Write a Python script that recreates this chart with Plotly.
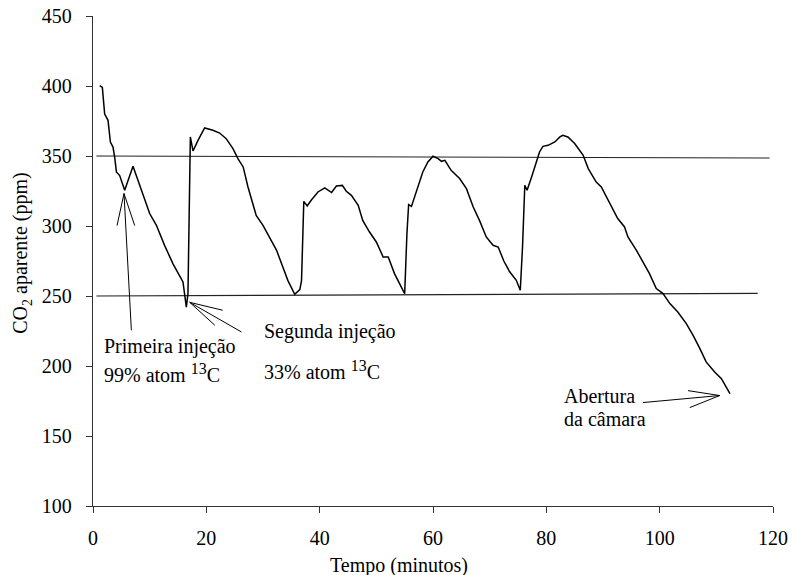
import plotly.graph_objects as go

# ---- data ----
tempo = [1.18, 1.65, 2.06, 2.65, 3.07, 3.53, 3.83, 4.13, 4.71, 5.59, 7.06, 7.94, 8.82, 10.0,
         11.19, 12.65, 14.12, 15.3, 15.88, 16.47, 16.76, 17.18, 17.65, 18.53, 19.7, 21.17,
         22.35, 23.5, 24.7, 25.6, 26.5, 27.35, 28.8, 30.0, 31.3, 32.4, 33.5, 34.4, 35.6,
         36.5, 36.8, 37.2, 37.8, 38.5, 39.7, 40.9, 42.1, 42.95, 44.0, 44.7, 45.6, 46.8,
         47.6, 48.8, 50.0, 51.2, 52.1, 53.2, 54.1, 55.0, 55.4, 55.7, 56.2, 57.1, 58.2,
         59.1, 60.0, 60.9, 61.5, 62.1, 63.2, 64.7, 65.9, 67.1, 68.2, 69.4, 70.6, 71.5,
         72.5, 73.5, 74.7, 75.4, 75.8, 76.2, 76.6, 77.4, 78.2, 78.8, 79.4, 80.3, 81.5,
         82.4, 82.9, 83.8, 85.0, 86.5, 87.4, 88.8, 89.7, 91.2, 92.6, 93.8, 94.4, 95.9,
         97.1, 98.2, 99.4, 100.6, 101.8, 103.2, 104.7, 105.9, 107.1, 108.2, 109.7, 110.9,
         112.4]
co2 = [400.2, 399, 380, 375.5, 360, 356.4, 349, 338.6, 336, 325.5, 342.6, 332.6, 323, 308.9,
       300.5, 286, 273, 263.6, 260, 242.1, 251.7, 363.6, 353.6, 361.2, 370, 368.4,
       366.4, 362.4, 355.3, 348, 342.2, 327.9, 307.6, 300.5, 291, 282.6, 270.7, 261, 251.2,
       254.6, 261, 317.6, 314.3, 318.4, 324.3, 327.2, 323.9, 328.6, 329, 324.8, 321.9, 314.8,
       304, 295.7, 288.6, 277.9, 277.9, 266, 258.9, 251.6, 294.4, 315.3, 314, 325.5, 338.6,
       345.7, 349.8, 348.1, 346.2, 346.9, 339.8, 333.9, 326.7, 313.6, 304, 292.2, 286.2, 285,
       275, 267.5, 261.2, 254.1, 285, 329.1, 325.5, 335, 345.7, 352.9, 356.9, 357.6, 360,
       363.6, 364.8, 363.6, 358.9, 350.5, 341, 331.4, 327.9, 316, 305.3, 299.3, 292.2, 282.6,
       274.3, 266, 255.3, 251.7, 244.6, 238.6, 230.3, 221.9, 212.4, 202.9, 195.7, 191,
       180.3]

ref_hi_t = [0.6, 119.4]
ref_hi_v = [350, 348.6]
ref_lo_t = [0.6, 117.3]
ref_lo_v = [250, 251.9]

x_ticks = [0, 20, 40, 60, 80, 100, 120]
y_ticks = [100, 150, 200, 250, 300, 350, 400, 450]

FONT = "Liberation Serif, Times New Roman, Times, serif"
BLACK = "#000000"

fig = go.Figure()
fig.add_trace(go.Scatter(x=ref_hi_t, y=ref_hi_v, mode="lines",
                         line=dict(color="#222222", width=1.1), hoverinfo="skip"))
fig.add_trace(go.Scatter(x=ref_lo_t, y=ref_lo_v, mode="lines",
                         line=dict(color="#222222", width=1.1), hoverinfo="skip"))
fig.add_trace(go.Scatter(x=tempo, y=co2, mode="lines",
                         line=dict(color=BLACK, width=1.5)))

# arrows (shaft + open V head), in data units
arrows = [
    # tip, tail, head1, head2
    ((5.47, 323.2), (6.77, 225.5), (4.24, 300.3), (7.36, 300.3)),
    ((17.06, 245.5), (26.2, 224.3), (22.9, 239.8), (21.5, 229.1)),
    ((110.6, 178.9), (97.06, 173.9), (105.0, 182.4), (105.3, 170.3)),
]
shapes = []
for tip, tail, h1, h2 in arrows:
    for end in (tail, h1, h2):
        shapes.append(dict(type="line", xref="x", yref="y",
                           x0=tip[0], y0=tip[1], x1=end[0], y1=end[1],
                           line=dict(color=BLACK, width=1)))

SUP = "<sup><span style='font-size:16px'>13</span></sup>"
texts = [
    ("Primeira injeção", 1.5, 214),
    ("99% atom " + SUP + "C", 1.5, 195),
    ("Segunda injeção", 29.8, 225),
    ("33% atom " + SUP + "C", 29.8, 197),
    ("Abertura", 82.7, 178.5),
    ("da câmara", 82.7, 162),
]
annotations = []
for txt, tx, ty in texts:
    annotations.append(dict(text=txt, x=tx, y=ty, xref="x", yref="y",
                            xanchor="left", yanchor="middle", showarrow=False,
                            font=dict(family=FONT, size=20, color=BLACK)))
annotations.append(dict(text="Tempo (minutos)", x=0.4496, y=-0.121, xref="paper", yref="paper",
                        xanchor="center", yanchor="middle", showarrow=False,
                        font=dict(family=FONT, size=20, color=BLACK)))
annotations.append(dict(text="CO<sub>2</sub> aparente (ppm)", x=-0.105, y=0.516,
                        xref="paper", yref="paper", textangle=-90,
                        xanchor="center", yanchor="middle", showarrow=False,
                        font=dict(family=FONT, size=20, color=BLACK)))

axis_common = dict(showgrid=False, zeroline=False, showline=True, linecolor="#333333",
                   linewidth=1.3, ticks="outside", ticklen=6, tickcolor="#333333",
                   tickwidth=1.3, automargin=False,
                   tickfont=dict(family=FONT, size=20, color=BLACK))

fig.update_layout(
    width=793, height=575,
    margin=dict(l=93, r=20, t=16, b=69, autoexpand=False),
    paper_bgcolor="white", plot_bgcolor="white",
    showlegend=False,
    font=dict(family=FONT, size=20, color=BLACK),
    shapes=shapes, annotations=annotations,
    xaxis=dict(range=[0, 120], tickvals=x_ticks, ticklabelstandoff=8, **axis_common),
    yaxis=dict(range=[100, 450], tickvals=y_ticks, ticklabelstandoff=10, **axis_common),
)

fig.write_html("out.html")
